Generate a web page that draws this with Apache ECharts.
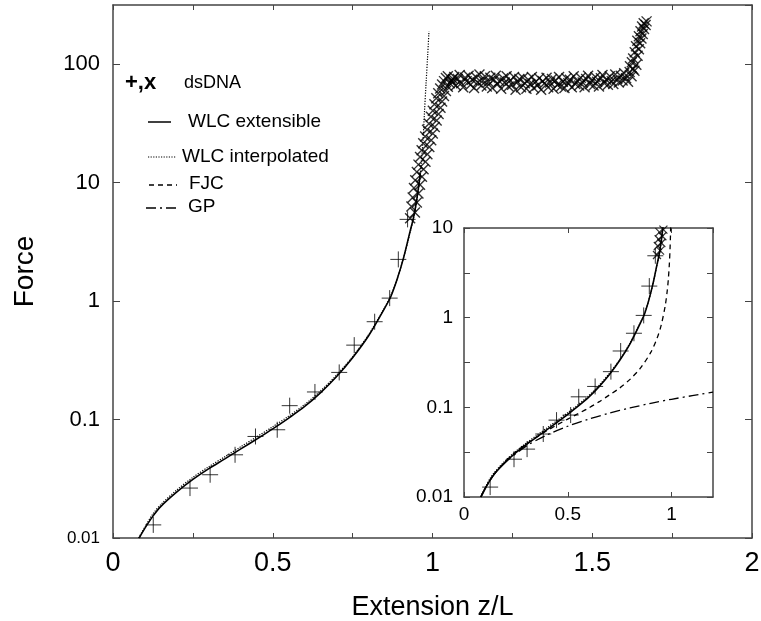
<!DOCTYPE html>
<html>
<head>
<meta charset="utf-8">
<script src="https://cdn.jsdelivr.net/npm/echarts@6/dist/echarts.min.js"></script>
<style>
html,body{margin:0;padding:0;background:#fff;}
#c{width:761px;height:621px;}
</style>
</head>
<body>
<div id="c"></div>
<script>
// ---- data ----
// dsDNA "+" points: extension z/L, force
const plusX = [0.126, 0.241, 0.304, 0.382, 0.446, 0.514, 0.553, 0.632, 0.708, 0.755, 0.819, 0.866, 0.893, 0.922];
const plusF = [0.0129, 0.0264, 0.0342, 0.0504, 0.072, 0.082, 0.131, 0.171, 0.25, 0.425, 0.67, 1.06, 2.25, 4.9];

// dsDNA "x" points: steep rise before the plateau
const riseX = [0.930,0.945,0.934,0.951,0.938,0.956,0.942,0.961,0.946,0.967,0.951,0.972,0.956,0.978,0.961,0.984,0.966,0.990,0.971,0.996,0.977,1.001,0.983,1.007,0.989,1.013,0.995,1.019,1.001,1.025,1.006,1.030,1.012,1.036,1.018,1.042,1.024,1.048,1.030,1.054,1.036,1.060,1.042,1.064,1.048];
const riseF = [5.0,5.6,6.3,6.8,7.5,8.1,9.0,9.6,10.5,11.2,12.3,13.0,14.2,15.0,16.5,17.4,18.8,20.0,21.5,22.8,24.5,26.0,28.0,29.5,31.5,33.5,36.0,38.0,40.5,43.0,46.0,48.5,51.5,54.0,57.0,59.5,62.5,64.5,67.5,69.0,72.0,73.0,76.5,75.0,79.0];

// dsDNA "x" points: overstretching plateau
const plateauX = [1.062,1.068,1.073,1.079,1.085,1.090,1.096,1.102,1.107,1.113,1.119,1.124,1.130,1.136,1.141,1.147,1.153,1.158,1.164,1.170,1.175,1.181,1.187,1.192,1.198,1.204,1.209,1.215,1.221,1.226,1.232,1.238,1.243,1.249,1.255,1.260,1.266,1.272,1.277,1.283,1.289,1.294,1.300,1.306,1.311,1.317,1.323,1.328,1.334,1.340,1.345,1.351,1.357,1.362,1.368,1.374,1.379,1.385,1.391,1.396,1.402,1.408,1.413,1.419,1.425,1.430,1.436,1.442,1.447,1.453,1.459,1.464,1.470,1.476,1.481,1.487,1.493,1.498,1.504,1.510,1.515,1.521,1.527,1.532,1.538,1.544,1.549,1.555,1.561,1.566,1.572,1.578,1.583,1.589,1.595,1.600,1.606,1.612,1.617,1.623,1.628];
const plateauF = [70,78,66,75,81,69,64,77,72,80,67,74,63,78,70,82,66,73,79,65,71,77,63,74,80,68,72,62,76,70,79,65,73,67,78,61,71,75,64,77,69,62,74,68,78,63,71,66,76,61,72,69,77,64,70,75,62,73,67,78,65,71,63,76,69,74,64,79,68,72,66,77,70,64,75,80,68,73,66,78,71,65,76,81,69,74,67,79,72,68,82,75,70,80,73,84,76,71,86,79,91];

// dsDNA "x" points: final rise
const endX = [1.618,1.632,1.624,1.638,1.628,1.642,1.633,1.646,1.637,1.650,1.641,1.654,1.646,1.658,1.651,1.662,1.656,1.667,1.661,1.670];
const endF = [96,88,104,99,112,118,126,134,142,150,158,165,172,180,190,198,208,214,222,230];

// WLC extensible (solid)
const wlcExtX = [0.082,0.10,0.125,0.15,0.20,0.25,0.30,0.35,0.40,0.45,0.50,0.55,0.60,0.65,0.70,0.75,0.80,0.85,0.87,0.89,0.91,0.93,0.94,0.95,0.957,0.962];
const wlcExtF = [0.0100,0.0121,0.0153,0.0185,0.0245,0.0312,0.0385,0.0465,0.0565,0.0685,0.0835,0.103,0.129,0.169,0.231,0.333,0.51,0.87,1.10,1.55,2.35,3.9,5.0,7.0,9.5,12];

// WLC interpolated (dotted)
const wlcIntX = [0.080,0.10,0.125,0.15,0.20,0.25,0.30,0.35,0.40,0.45,0.50,0.55,0.60,0.65,0.70,0.75,0.80,0.85,0.87,0.89,0.91,0.93,0.94,0.95,0.96,0.965,0.97,0.975,0.98,0.985,0.989];
const wlcIntF = [0.0100,0.0124,0.0160,0.0192,0.0255,0.0325,0.0400,0.0485,0.0590,0.0715,0.0870,0.107,0.134,0.175,0.238,0.340,0.520,0.88,1.12,1.55,2.35,3.8,4.9,6.8,10.5,15,22,40,70,120,190];

// FJC (dashed, inset)
const fjcX = [0.081,0.10,0.15,0.20,0.25,0.30,0.35,0.40,0.45,0.50,0.55,0.60,0.65,0.70,0.75,0.80,0.85,0.90,0.93,0.95,0.97,0.98,0.985,0.99,0.993,0.995,0.996];
const fjcF = [0.0100,0.0123,0.0186,0.0250,0.0318,0.0390,0.0465,0.0550,0.0640,0.0740,0.0850,0.0980,0.115,0.137,0.164,0.205,0.273,0.41,0.586,0.82,1.37,2.05,2.73,4.1,5.9,8.2,10.2];

// GP (dash-dot, inset)
const gpX = [0.081,0.10,0.15,0.20,0.30,0.40,0.50,0.60,0.70,0.80,0.90,1.00,1.10,1.20];
const gpF = [0.0100,0.0123,0.0185,0.0246,0.0369,0.0492,0.0615,0.0738,0.0861,0.0984,0.111,0.123,0.135,0.148];

// axis ticks
const mainXTicks = [0, 0.5, 1, 1.5, 2];
const mainYTicks = [0.1, 1, 10, 100];
const mainYSmallTicks = [0.01];
const insetXTicks = [0, 0.5, 1];
const insetYTicks = [0.01, 0.1, 1, 10];

// legend texts
const legendLabels = ['dsDNA', 'WLC extensible', 'WLC interpolated', 'FJC', 'GP'];

// ---- build ----
const zip = (xs, ys) => xs.map((x, i) => [x, ys[i]]);
const plusData = zip(plusX, plusF);
const crossData = zip(riseX, riseF).concat(zip(plateauX, plateauF), zip(endX, endF));

const FONT = '"Liberation Sans", Arial, Helvetica, sans-serif';
const FRAME = '#444';
const PLUS = 'path://M0,5L10,5M5,0L5,10';
const CROSS = 'path://M0,0L10,10M10,0L0,10';

const near = (v, arr) => arr.some(t => Math.abs(t - v) < 1e-6 * Math.max(1, Math.abs(t)));
const axLine = {show: true, onZero: false, lineStyle: {color: FRAME, width: 1.5}};
const noLine = {show: false, onZero: false};

const chart = echarts.init(document.getElementById('c'), null, {renderer: 'canvas'});

function markerSeries(name, data, sym, size, bw, xi, yi) {
  return {
    name, type: 'scatter', xAxisIndex: xi, yAxisIndex: yi, data,
    symbol: sym, symbolSize: size, clip: true, silent: true, z: 3,
    itemStyle: {color: 'none', borderColor: '#000', borderWidth: bw},
    emphasis: {disabled: true}
  };
}
function lineSeries(name, data, type, width, xi, yi) {
  return {
    name, type: 'line', xAxisIndex: xi, yAxisIndex: yi, data,
    showSymbol: false, symbol: 'none', smooth: 0.3, clip: true, silent: true, z: 3,
    lineStyle: {color: '#000', width, type},
    emphasis: {disabled: true}
  };
}

const option = {
  animation: false,
  backgroundColor: '#fff',
  textStyle: {fontFamily: FONT},
  grid: [
    {left: 113, top: 5, width: 639, height: 533, show: false, containLabel: false, outerBoundsMode: 'none'},
    {left: 464, top: 228, width: 249, height: 269, show: true, backgroundColor: '#fff', borderWidth: 0,
     containLabel: false, outerBoundsMode: 'none'}
  ],
  xAxis: [
    { type: 'value', gridIndex: 0, position: 'bottom', min: 0, max: 2, interval: 0.25,
      axisLine: axLine, splitLine: {show: false},
      axisTick: {inside: true, length: 5, lineStyle: {color: FRAME, width: 1}},
      axisLabel: {fontSize: 27, color: '#000', margin: 12, fontFamily: FONT,
        formatter: v => near(v, mainXTicks) ? String(+v.toFixed(2)) : ''},
      name: 'Extension z/L', nameLocation: 'middle', nameGap: 56,
      nameTextStyle: {fontSize: 27, color: '#000', fontFamily: FONT}
    },
    { type: 'value', gridIndex: 0, position: 'top', min: 0, max: 2, interval: 0.25,
      axisLine: axLine, splitLine: {show: false},
      axisTick: {inside: true, length: 5, lineStyle: {color: FRAME, width: 1}},
      axisLabel: {show: false}
    },
    { type: 'value', gridIndex: 1, position: 'bottom', min: 0, max: 1.2, interval: 0.5,
      axisLine: axLine, splitLine: {show: false},
      axisTick: {inside: true, length: 5, lineStyle: {color: FRAME, width: 1}},
      axisLabel: {fontSize: 19, color: '#000', margin: 8, fontFamily: FONT, showMaxLabel: false,
        formatter: v => near(v, insetXTicks) ? String(v) : ''}
    },
    { type: 'value', gridIndex: 1, position: 'top', min: 0, max: 1.2, interval: 0.5,
      axisLine: axLine, splitLine: {show: false},
      axisTick: {inside: true, length: 5, lineStyle: {color: FRAME, width: 1}},
      axisLabel: {show: false}
    }
  ],
  yAxis: [
    { type: 'log', logBase: 10, gridIndex: 0, position: 'left', min: 0.01, max: 316.2278,
      axisLine: axLine, splitLine: {show: false}, minorTick: {show: false},
      axisTick: {inside: true, length: 7, lineStyle: {color: FRAME, width: 1}},
      axisLabel: {color: '#000', margin: 13, fontFamily: FONT, fontSize: 22, showMaxLabel: false,
        formatter: v => near(v, mainYTicks) ? String(v) : ''},
      name: 'Force', nameLocation: 'middle', nameGap: 74, nameRotate: 90,
      nameTextStyle: {fontSize: 28, color: '#000', fontFamily: FONT}
    },
    { type: 'log', logBase: 10, gridIndex: 0, position: 'right', min: 0.01, max: 316.2278,
      axisLine: axLine, splitLine: {show: false},
      axisTick: {inside: true, length: 7, lineStyle: {color: FRAME, width: 1}},
      axisLabel: {show: false}
    },
    { type: 'log', logBase: 10, gridIndex: 1, position: 'left', min: 0.01, max: 10,
      axisLine: axLine, splitLine: {show: false}, axisTick: {show: false},
      axisLabel: {color: '#000', margin: 11, fontFamily: FONT, fontSize: 19,
        formatter: v => near(v, insetYTicks) ? String(v) : ''}
    },
    // half-decade tick marks of the inset (log10 of force)
    { type: 'value', gridIndex: 1, position: 'left', min: -2, max: 1, interval: 0.5,
      axisLine: noLine, splitLine: {show: false}, axisLabel: {show: false},
      axisTick: {inside: true, length: 6, lineStyle: {color: FRAME, width: 1}}
    },
    { type: 'value', gridIndex: 1, position: 'right', min: -2, max: 1, interval: 0.5,
      axisLine: axLine, splitLine: {show: false}, axisLabel: {show: false},
      axisTick: {inside: true, length: 6, lineStyle: {color: FRAME, width: 1}}
    },
    // smaller bottom label "0.01" of the main axis
    { type: 'log', logBase: 10, gridIndex: 0, position: 'left', min: 0.01, max: 316.2278,
      axisLine: noLine, splitLine: {show: false}, axisTick: {show: false},
      axisLabel: {color: '#000', margin: 13, fontFamily: FONT, fontSize: 17, showMaxLabel: false,
        formatter: v => near(v, mainYSmallTicks) ? String(v) : ''}
    }
  ],
  series: [
    lineSeries('WLC extensible', zip(wlcExtX, wlcExtF), 'solid', 1.6, 0, 0),
    lineSeries('WLC interpolated', zip(wlcIntX, wlcIntF), [1.2, 1.4], 1.2, 0, 0),
    markerSeries('dsDNA +', plusData, PLUS, 16, 1, 0, 0),
    markerSeries('dsDNA x', crossData, CROSS, 10, 1.4, 0, 0),

    lineSeries('WLC extensible', zip(wlcExtX, wlcExtF), 'solid', 1.6, 2, 2),
    lineSeries('WLC interpolated', zip(wlcIntX, wlcIntF), [1.2, 1.4], 1.2, 2, 2),
    lineSeries('FJC', zip(fjcX, fjcF), [5, 4], 1.3, 2, 2),
    lineSeries('GP', zip(gpX, gpF), [10, 4, 2, 4], 1.3, 2, 2),
    markerSeries('dsDNA +', plusData, PLUS, 16, 1, 2, 2),
    markerSeries('dsDNA x', crossData, CROSS, 8, 1.2, 2, 2)
  ],
  graphic: [
    {type: 'text', x: 125, y: 83, style: {text: '+,x', font: 'bold 22px ' + FONT, fill: '#000', verticalAlign: 'middle'}},
    {type: 'text', x: 184, y: 83, style: {text: legendLabels[0], font: '18px ' + FONT, fill: '#000', verticalAlign: 'middle'}},
    {type: 'line', shape: {x1: 148, y1: 122, x2: 171, y2: 122}, style: {stroke: '#000', lineWidth: 1.5}},
    {type: 'text', x: 188, y: 122, style: {text: legendLabels[1], font: '19px ' + FONT, fill: '#000', verticalAlign: 'middle'}},
    {type: 'line', shape: {x1: 148, y1: 157, x2: 176, y2: 157}, style: {stroke: '#000', lineWidth: 1.2, lineDash: [1.2, 1.4]}},
    {type: 'text', x: 182, y: 157, style: {text: legendLabels[2], font: '19px ' + FONT, fill: '#000', verticalAlign: 'middle'}},
    {type: 'line', shape: {x1: 149, y1: 185, x2: 177, y2: 185}, style: {stroke: '#000', lineWidth: 1.3, lineDash: [5, 4]}},
    {type: 'text', x: 189, y: 184, style: {text: legendLabels[3], font: '19px ' + FONT, fill: '#000', verticalAlign: 'middle'}},
    {type: 'line', shape: {x1: 146, y1: 208, x2: 178, y2: 208}, style: {stroke: '#000', lineWidth: 1.3, lineDash: [10, 4, 2, 4]}},
    {type: 'text', x: 188, y: 207, style: {text: legendLabels[4], font: '19px ' + FONT, fill: '#000', verticalAlign: 'middle'}}
  ]
};
chart.setOption(option);
</script>
</body>
</html>
